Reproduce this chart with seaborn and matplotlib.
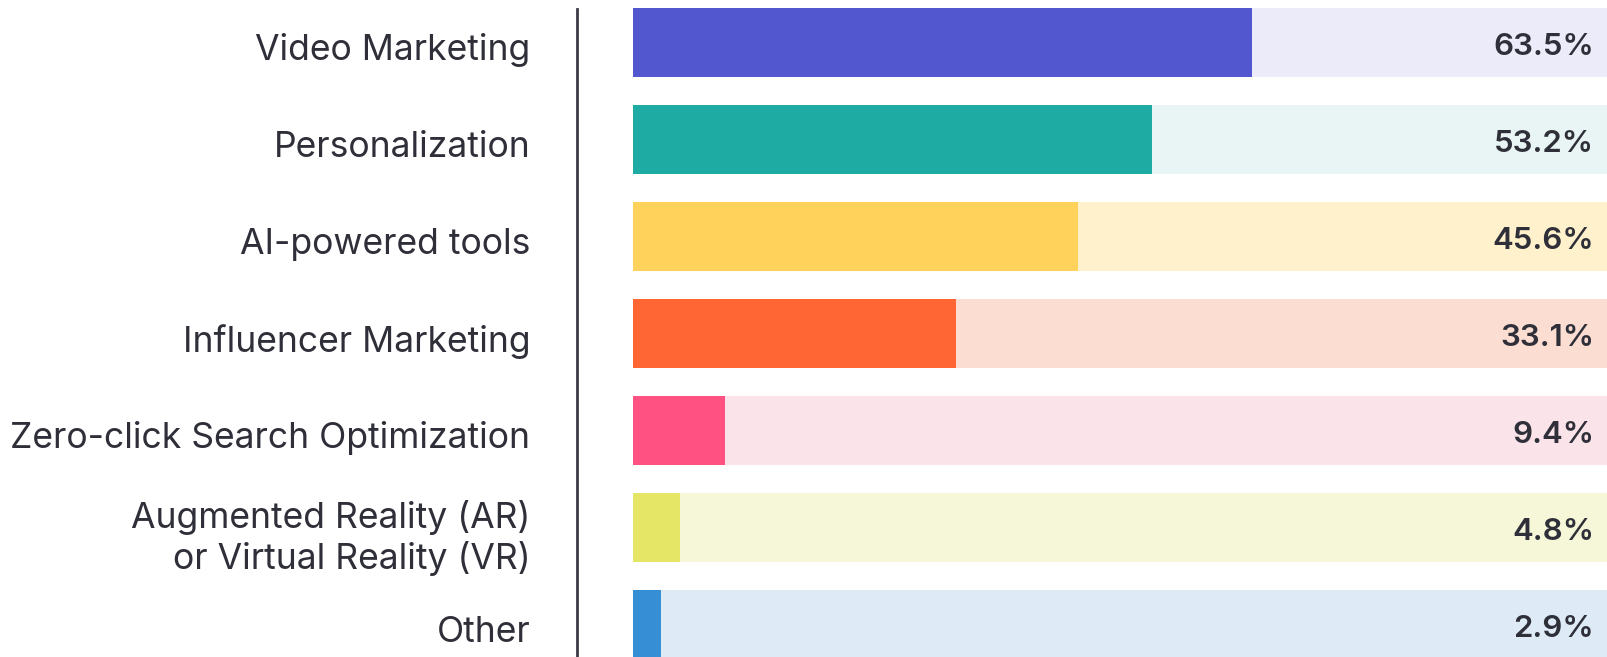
import matplotlib
matplotlib.use("Agg")
import matplotlib.pyplot as plt
import matplotlib.transforms as mtransforms
import seaborn as sns
import pandas as pd

categories = ["Video Marketing", "Personalization", "AI-powered tools",
              "Influencer Marketing", "Zero-click Search Optimization",
              "Augmented Reality (AR)\nor Virtual Reality (VR)", "Other"]
values = [63.5, 53.2, 45.6, 33.1, 9.4, 4.8, 2.9]
full = [100] * len(categories)
bar_colors = ["#5257D0", "#1DABA4", "#FFD25C", "#FF6633", "#FF5282", "#E5E566", "#368ED5"]
bg_colors = ["#ECEBF9", "#E8F5F4", "#FFF1CB", "#FBDED1", "#FBE3EA", "#F6F7D8", "#DEEBF7"]

sns.set_theme(style="white")
plt.rcParams['font.family'] = ['Inter', 'DejaVu Sans']

df = pd.DataFrame({"cat": categories, "val": values, "full": full})

fig = plt.figure(figsize=(16.08, 6.57), dpi=100)
ax = fig.add_axes([633 / 1608, 0, 1 - 633 / 1608, 1])

bw = 69 / 97
sns.barplot(data=df, y="cat", x="full", hue="cat", palette=bg_colors, orient="h",
            width=bw, legend=False, ax=ax, saturation=1, linewidth=0)
sns.barplot(data=df, y="cat", x="val", hue="cat", palette=bar_colors, orient="h",
            width=bw, legend=False, ax=ax, saturation=1, linewidth=0)

ax.set_xlim(0, 100)
top = -42.5 / 97
ax.set_ylim(top + 657 / 97, top)
ax.set_xlabel("")
ax.set_ylabel("")
ax.set_xticks([])

text_color = "#2E2F38"
ax.tick_params(axis="y", length=0, pad=33.5, labelsize=25.6, labelcolor=text_color)
for s in ["top", "right", "bottom"]:
    ax.spines[s].set_visible(False)
ax.spines["left"].set_position(("outward", 40.3))
ax.spines["left"].set_color("#3A3B45")
ax.spines["left"].set_linewidth(2)
ax.spines["left"].set_bounds(top + 9 / 97, top + 657 / 97)

shift = mtransforms.ScaledTranslation(0, -3 / 72, fig.dpi_scale_trans)
for lab in ax.get_yticklabels():
    lab.set_transform(lab.get_transform() + shift)

for i, v in enumerate(values):
    ax.annotate(f"{v}%", xy=(100, i), xytext=(-10, -3), textcoords="offset points",
                ha="right", va="center", fontsize=22.5, fontweight="semibold",
                color=text_color)

fig.savefig("out.png", dpi=100, facecolor="white")
